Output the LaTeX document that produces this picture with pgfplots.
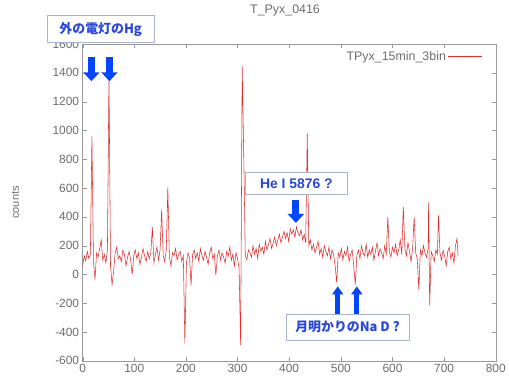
\documentclass[border=0pt]{standalone}
\usepackage{pgfplots}
\pgfplotsset{compat=1.18}
\usepackage{fontspec}
\setmainfont{Liberation Sans}
\newfontfamily\jp{Noto Sans CJK JP}
\usetikzlibrary{arrows.meta}
\definecolor{spec}{RGB}{225,45,45}
\definecolor{annblue}{RGB}{40,70,220}
\definecolor{arrblue}{RGB}{0,70,255}
\definecolor{boxgray}{RGB}{170,180,200}
\pgfplotstableread{
x y
0 60
3 130
6 95
9 160
12 110
15 140
18 960
21 90
24 -35
27 150
30 120
33 180
36 240
39 100
42 140
45 80
48 170
51 1390
54 60
57 -70
60 20
63 150
66 190
69 110
72 130
75 90
78 170
81 140
84 60
87 120
90 160
93 100
96 0
99 130
102 170
105 110
108 150
111 70
114 120
117 180
120 130
123 90
126 160
129 110
132 150
135 330
138 80
141 140
144 190
147 100
150 170
153 450
156 130
159 90
162 170
165 605
168 120
171 60
174 150
177 130
180 180
183 100
186 140
189 160
192 90
195 130
198 -480
201 80
204 150
207 120
210 -75
213 140
216 170
219 110
222 150
225 90
228 180
231 130
234 100
237 160
240 120
243 70
246 150
249 190
252 110
255 140
258 -5
261 130
264 170
267 100
270 150
273 120
276 80
279 160
282 130
285 190
288 100
291 140
294 60
297 150
300 110
303 40
306 -490
309 1450
312 830
315 130
318 100
321 170
324 150
327 120
330 200
333 140
336 180
339 110
342 210
345 160
348 190
351 140
354 230
357 170
360 210
363 250
366 180
369 220
372 260
375 200
378 240
381 280
384 220
387 260
390 300
393 250
396 290
399 230
402 320
405 280
408 310
411 260
414 330
417 290
420 270
423 310
426 240
429 280
432 220
435 980
438 200
441 240
444 170
447 210
450 150
453 190
456 230
459 140
462 180
465 120
468 200
471 160
474 130
477 190
480 110
483 170
486 140
489 60
492 -55
495 150
498 120
501 180
504 100
507 160
510 130
513 190
516 90
519 140
522 170
525 60
528 -70
531 130
534 170
537 110
540 200
543 150
546 130
549 210
552 120
555 170
558 140
561 190
564 100
567 160
570 220
573 130
576 180
579 150
582 110
585 200
588 140
591 400
594 160
597 120
600 190
603 150
606 210
609 130
612 170
615 240
618 140
621 470
624 180
627 130
630 220
633 160
636 90
639 180
642 400
645 150
648 110
651 -105
654 170
657 130
660 200
663 150
666 120
669 180
670 500
672 -215
675 160
678 130
681 90
684 170
687 140
689 410
692 150
695 100
698 170
701 130
704 60
707 160
710 190
713 110
716 150
719 80
722 200
725 250
727 130
}\spectrum
\begin{document}
\begin{tikzpicture}
\begin{axis}[
  scale only axis,
  width=416pt, height=319pt,
  xmin=0, xmax=800, ymin=-600, ymax=1600,
  xtick={0,100,...,800},
  ytick={-600,-400,...,1600},
  axis line style={gray!80},
  tick style={gray!80},
  tick label style={font=\fontsize{12}{14}\selectfont, text=gray!85!black},
  /pgf/number format/assume math mode=true,
  /pgf/number format/1000 sep={},
  ylabel={counts},
  ylabel style={at={(axis description cs:-0.163,0.5)}, anchor=center, font=\fontsize{11}{13}\selectfont, text=gray!85!black},
  title={T\_Pyx\_0416},
  title style={at={(axis description cs:0.49,1.088)}, anchor=center, font=\fontsize{12.5}{14}\selectfont, text=gray!85!black},
  legend style={draw=none, fill=none, at={(axis description cs:0.975,0.99)}, anchor=north east, font=\fontsize{12.5}{14}\selectfont, text=gray!85!black},
  legend plot pos=right,
  legend cell align=right,
  legend image code/.code={\draw[#1] (0pt,0pt) -- (34pt,0pt);},
  clip=false,
]
\addplot[spec, line width=0.55pt] table[x=x,y=y] {\spectrum};
\addlegendentry{TPyx\_15min\_3bin}
% annotations
\draw[arrblue, line width=7pt, -{Triangle[width=16pt,length=9pt]}] (axis cs:17,1507) -- (axis cs:17,1342);
\draw[arrblue, line width=7pt, -{Triangle[width=16pt,length=9pt]}] (axis cs:52,1507) -- (axis cs:52,1342);
\node[draw=boxgray, fill=white, line width=0.8pt, minimum width=108pt, minimum height=27pt, inner sep=2pt, text=annblue, font=\jp\bfseries\fontsize{13}{15}\selectfont] at (axis cs:35,1703) {外の電灯のHg};
\draw[arrblue, line width=7pt, -{Triangle[width=16pt,length=9pt]}] (axis cs:413,516) -- (axis cs:413,358);
\node[draw=boxgray, fill=white, line width=0.8pt, minimum width=103pt, minimum height=22pt, inner sep=2pt, text=annblue, font=\bfseries\fontsize{14}{16}\selectfont] at (axis cs:414,633) {He I 5876 ?};
\draw[arrblue, line width=5pt, -{Triangle[width=11pt,length=8pt]}] (axis cs:494,-275) -- (axis cs:494,-83);
\draw[arrblue, line width=5pt, -{Triangle[width=11pt,length=8pt]}] (axis cs:531,-275) -- (axis cs:531,-83);
\node[draw=boxgray, fill=white, line width=0.8pt, minimum width=124pt, minimum height=26pt, inner sep=2pt, text=annblue, font=\jp\bfseries\fontsize{13}{15}\selectfont] at (axis cs:513,-365) {月明かりのNa D ?};
\path (axis cs:-160,1906) rectangle (axis cs:819,-778);
\end{axis}
\end{tikzpicture}
\end{document}
